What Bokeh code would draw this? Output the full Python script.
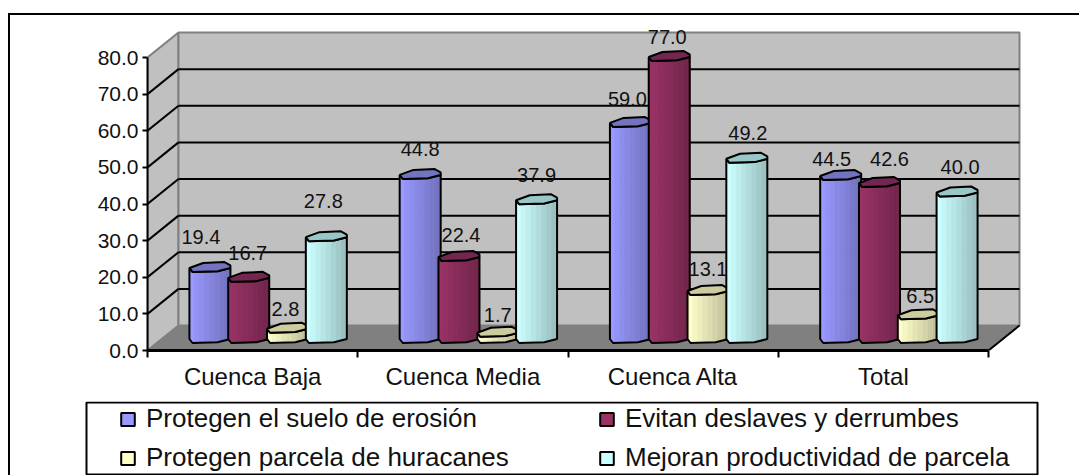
import numpy as np
from bokeh.core.properties import value
from bokeh.embed import file_html
from bokeh.layouts import column
from bokeh.models import (FixedTicker, Legend, LegendItem,
                          LinearAxis, NumeralTickFormatter, Range1d)
from bokeh.plotting import figure
from bokeh.resources import INLINE

categories = ["Cuenca Baja", "Cuenca Media", "Cuenca Alta", "Total"]
series_names = ["Protegen el suelo de erosión", "Evitan deslaves y derrumbes",
                "Protegen parcela de huracanes", "Mejoran productividad de parcela"]
suelo = [19.4, 44.8, 59.0, 44.5]
deslaves = [16.7, 22.4, 77.0, 42.6]
huracanes = [2.8, 1.7, 13.1, 6.5]
productividad = [27.8, 37.9, 49.2, 40.0]
y_ticks = [0, 10, 20, 30, 40, 50, 60, 70, 80]

# label nudges relative to each column's top (px)
label_dx = [[-9, 0, -3, -9], [-1, 2, -2, 10], [-2, 0, 0, 2], [-3, 0, 1, 3]]
label_dy = [[-30, -25, -23, -16], [-24, -21, -19, -23], [-19, -17, -21, -18], [-35, -24, -25, -25]]

FONT = "Liberation Sans"
body_colors = ["#9999FF", "#993366", "#FFFFCC", "#CCFFFF"]
cap_colors = ["#7373BF", "#732650", "#CCCC9F", "#99C7C7"]
all_values = [suelo, deslaves, huracanes, productividad]

# scales: pixels per data unit on the front plane
PX = 841 / 4
PY = 293 / 80
DEPTH_X = 31 / PX
DEPTH_Y = 25 / PY
STEP = 38.8 / PX
HALF = 20.5 / PX

p = figure(width=1069, height=386, output_backend="svg", toolbar_location=None,
           x_range=Range1d(0, (1030 - 147) / PX), y_range=Range1d(0, (350 - 24) / PY),
           x_axis_location=None, y_axis_location=None)
p.frame_align = False
p.min_border_left = 137
p.min_border_right = 49
p.min_border_top = 9
p.min_border_bottom = 51
p.grid.visible = False
p.outline_line_color = None
p.background_fill_color = "white"
p.border_fill_color = "white"

# walls and floor
p.patch([0, DEPTH_X, DEPTH_X, 0], [0, DEPTH_Y, 80 + DEPTH_Y, 80], fill_color="#C0C0C0",
        line_color="#808080", line_width=2)
p.patch([DEPTH_X, 4 + DEPTH_X, 4 + DEPTH_X, DEPTH_X], [DEPTH_Y, DEPTH_Y, 80 + DEPTH_Y, 80 + DEPTH_Y],
        fill_color="#C0C0C0", line_color="#808080", line_width=2)
p.patch([0, 4, 4 + DEPTH_X, DEPTH_X], [0, 0, DEPTH_Y, DEPTH_Y], fill_color="#808080",
        line_color="#808080", line_width=1)
grid = [t for t in y_ticks if 0 < t < 80]
p.segment([0] * len(grid), grid, [DEPTH_X] * len(grid), [t + DEPTH_Y for t in grid],
          line_color="black", line_width=2)
p.segment([DEPTH_X] * len(grid), [t + DEPTH_Y for t in grid], [4 + DEPTH_X] * len(grid),
          [t + DEPTH_Y for t in grid], line_color="black", line_width=2)
p.segment([4], [0], [4 + DEPTH_X], [DEPTH_Y], line_color="black", line_width=2)

# column cross-section, in half-widths and pixels
LOW_U = [-1, -0.85, 0.375, 1]
LOW_V = [-1, -5, -4.3, -1]
UP_U = [-1, -0.33, 0.69, 1]
UP_V = [-1, 4, 5, 1.5]
STRIPS = 8
edges = np.linspace(-1, 1, STRIPS + 1)


def shade(hex_color, f):
    rgb = [int(hex_color[i:i + 2], 16) for i in (1, 3, 5)]
    return "#%02X%02X%02X" % tuple(int(c * f) for c in rgb)


base_y = DEPTH_Y / 2
for k, values in enumerate(all_values):
    centers = [i + 0.5 + DEPTH_X / 2 + (k - 1.5) * STEP for i in range(4)]
    bxs, bys, sxs, sys, scol, txs, tys = [], [], [], [], [], [], []
    for c, v in zip(centers, values):
        top_y = base_y + v
        low_x = [c + u * HALF for u in LOW_U]
        bxs.append(low_x + low_x[::-1])
        bys.append([base_y + q0 / PY for q0 in LOW_V] + [top_y + q0 / PY for q0 in LOW_V[::-1]])
        for j in range(STRIPS):
            u0, u1 = edges[j], edges[j + 1]
            v0, v1 = np.interp([u0, u1], LOW_U, LOW_V)
            sxs.append([c + u0 * HALF, c + u1 * HALF, c + u1 * HALF, c + u0 * HALF])
            sys.append([base_y + v0 / PY, base_y + v1 / PY, top_y + v1 / PY, top_y + v0 / PY])
            scol.append(shade(body_colors[k], 1 - 0.24 * (j / (STRIPS - 1))))
        txs.append(low_x + [c + u * HALF for u in UP_U[::-1]])
        tys.append([top_y + q0 / PY for q0 in LOW_V] + [top_y + q0 / PY for q0 in UP_V[::-1]])
    p.patches(sxs, sys, fill_color=scol, line_color=scol, line_width=1)
    p.patches(bxs, bys, fill_color=None, line_color="black", line_width=2)
    p.patches(txs, tys, fill_color=cap_colors[k], line_color="black", line_width=2)

# data labels
for k, values in enumerate(all_values):
    centers = [i + 0.5 + DEPTH_X / 2 + (k - 1.5) * STEP for i in range(4)]
    p.text(centers, [base_y + v for v in values], text=["%.1f" % v for v in values],
           x_offset=label_dx[k], y_offset=label_dy[k], text_font=value(FONT),
           text_font_size="20px", text_color="#111111", text_align="center",
           text_baseline="middle")

# axes
left = LinearAxis(ticker=FixedTicker(ticks=y_ticks), formatter=NumeralTickFormatter(format="0.0"),
                  bounds=(0, 80))
left.axis_line_color = "black"
left.axis_line_width = 2
left.major_tick_line_color = "black"
left.major_tick_line_width = 2
left.major_tick_out = 5
left.major_tick_in = 0
left.minor_tick_line_color = None
left.major_label_standoff = 4
left.major_label_text_font = FONT
left.major_label_text_font_size = "21px"
left.major_label_text_color = "#111111"
p.add_layout(left, "left")

bottom = LinearAxis(ticker=FixedTicker(ticks=[0.5, 1.5, 2.5, 3.5], minor_ticks=[0, 1, 2, 3, 4]),
                    major_label_overrides={i + 0.5: c for i, c in enumerate(categories)},
                    bounds=(0, 4))
bottom.axis_line_color = "black"
bottom.axis_line_width = 3
bottom.major_tick_line_color = None
bottom.major_tick_out = 0
bottom.major_tick_in = 0
bottom.minor_tick_line_color = "black"
bottom.minor_tick_line_width = 2
bottom.minor_tick_out = 7
bottom.minor_tick_in = 0
bottom.major_label_standoff = 5
bottom.major_label_text_font = FONT
bottom.major_label_text_font_size = "24px"
bottom.major_label_text_color = "#111111"
p.add_layout(bottom, "below")

# legend strip: its own figure, whose frame fills the canvas
q = figure(width=1069, height=74, output_backend="svg", toolbar_location=None,
           x_range=Range1d(0, 1069), y_range=Range1d(0, 74),
           x_axis_location=None, y_axis_location=None)
q.frame_align = False
q.min_border = 0
q.grid.visible = False
q.outline_line_color = None
q.background_fill_color = "white"
q.border_fill_color = "white"
q.quad(left=[76], right=[1027], bottom=[1], top=[73], fill_color=None, line_color="black", line_width=2)
swatches = [q.quad(left=[-20], right=[-10], bottom=[-20], top=[-10], fill_color=c,
                   line_color="black", line_width=2) for c in body_colors]
items = [LegendItem(label=series_names[k], renderers=[swatches[k]]) for k in (0, 2, 1, 3)]
legend = Legend(items=items, location=(109, 2), ncols=2, nrows=2)
legend.border_line_color = None
legend.background_fill_alpha = 0
legend.margin = 0
legend.padding = 0
legend.spacing = 8
legend.glyph_width = 17
legend.glyph_height = 16
legend.label_standoff = 10
legend.label_height = 26
legend.label_width = 444
legend.label_text_font = FONT
legend.label_text_font_size = "26px"
legend.label_text_color = "#111111"
legend.label_text_baseline = "middle"
q.add_layout(legend, "center")

page = column(p, q, spacing=0, margin=(13, 0, 0, 8),
              styles={"border-left": "2px solid black", "border-top": "2px solid black"})

open("out.html", "w").write(file_html(page, INLINE))
